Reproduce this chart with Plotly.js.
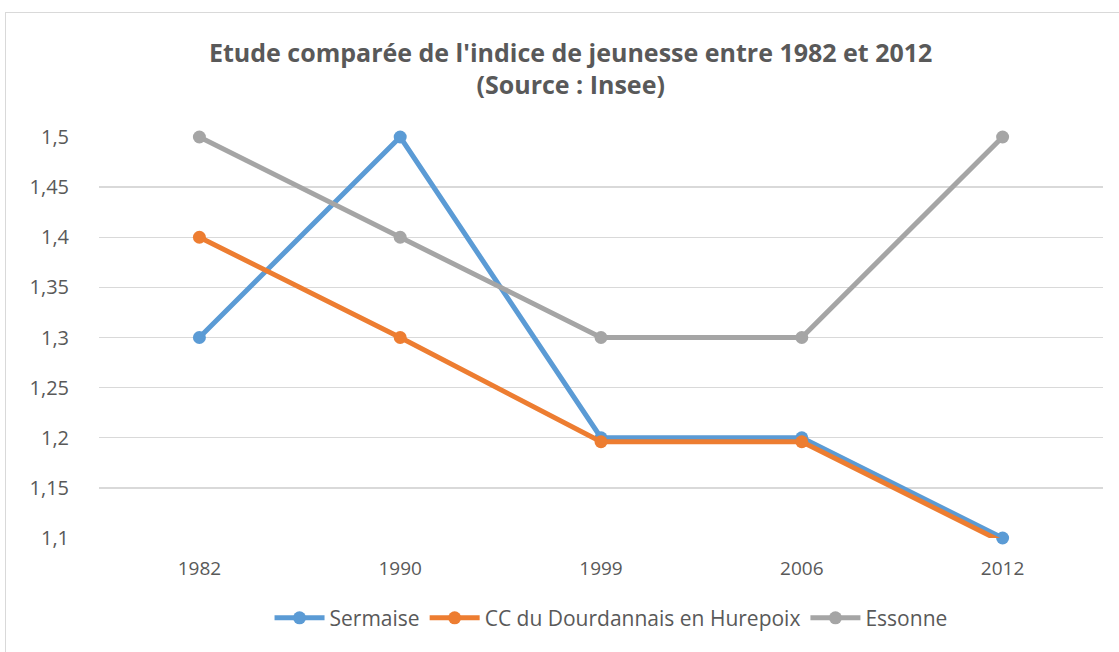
<!DOCTYPE html>
<html>
<head>
<meta charset="utf-8">
<script src="https://cdn.plot.ly/plotly-3.0.1.min.js"></script>
<style>
html,body{margin:0;padding:0;background:#fff;overflow:hidden;}
#frame{position:absolute;left:5px;top:12px;width:1130px;height:650px;border:1px solid #d9d9d9;box-sizing:border-box;}
#chart{position:absolute;left:0;top:0;width:1119px;height:652px;}
</style>
</head>
<body>
<div id="frame"></div>
<div id="chart"></div>
<script>
const years = ['1982', '1990', '1999', '2006', '2012'];
const sermaise = [1.3, 1.5, 1.2, 1.2, 1.1];
const ccDourdannais = [1.4, 1.3, 1.196, 1.196, 1.096];
const essonne = [1.5, 1.4, 1.3, 1.3, 1.5];
const yTickVals = [1.1, 1.15, 1.2, 1.25, 1.3, 1.35, 1.4, 1.45, 1.5];
const yTickText = ['1,1', '1,15', '1,2', '1,25', '1,3', '1,35', '1,4', '1,45', '1,5'];

function series(name, y, color, clip) {
  return {
    x: years, y: y, name: name, type: 'scatter', mode: 'lines+markers',
    line: {color: color, width: 5},
    marker: {color: color, size: 13},
    cliponaxis: clip
  };
}

const data = [
  series('Sermaise', sermaise, '#5B9BD5', false),
  series('CC du Dourdannais en Hurepoix', ccDourdannais, '#ED7D31', true),
  series('Essonne', essonne, '#A5A5A5', false)
];

const layout = {
  width: 1119, height: 652,
  paper_bgcolor: 'rgba(0,0,0,0)', plot_bgcolor: 'rgba(0,0,0,0)',
  margin: {l: 99, r: 16, t: 137, b: 114},
  font: {family: 'Open Sans, sans-serif', color: '#595959'},
  title: {
    text: "<b>Etude comparée de l'indice de jeunesse entre 1982 et 2012<br>(Source : Insee)</b>",
    font: {size: 25, color: '#595959', family: 'Open Sans, sans-serif'},
    x: 0.51, xanchor: 'center', y: 0.905, yanchor: 'middle'
  },
  xaxis: {
    type: 'category', range: [-0.5, 4.5],
    showgrid: false, zeroline: false, showline: false, ticks: '',
    tickfont: {size: 19, color: '#595959'}, ticklabelstandoff: 17
  },
  yaxis: {
    range: [1.1, 1.5], tickvals: yTickVals, ticktext: yTickText,
    showgrid: true, gridcolor: '#d9d9d9', gridwidth: 1.3, zeroline: false, showline: false,
    tickfont: {size: 20, color: '#595959'}, ticklabelstandoff: 29
  },
  showlegend: true,
  legend: {
    orientation: 'h', x: 0.51, xanchor: 'center', y: -0.2, yanchor: 'middle',
    font: {size: 21, color: '#595959'}, itemwidth: 50, tracegroupgap: 0
  }
};

Plotly.newPlot('chart', data, layout, {displayModeBar: false, staticPlot: true});
</script>
</body>
</html>
